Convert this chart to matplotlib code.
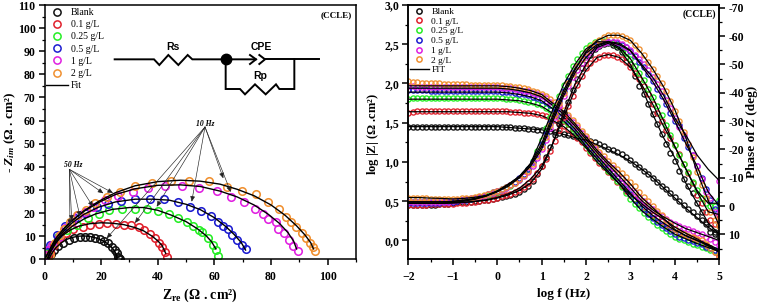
import matplotlib
matplotlib.use("Agg")
import matplotlib.pyplot as plt
from matplotlib.lines import Line2D

plt.rcParams['font.family'] = ['Liberation Serif', 'DejaVu Serif']
plt.rcParams['mathtext.fontset'] = 'custom'
plt.rcParams['mathtext.rm'] = 'Liberation Serif:bold'
plt.rcParams['mathtext.it'] = 'Liberation Serif:italic:bold'
plt.rcParams['mathtext.bf'] = 'Liberation Serif:bold'

names = ["Blank", "0.1 g/L", "0.25 g/L", "0.5 g/L", "1 g/L", "2 g/L"]
colors = ["#111111", "#e0202c", "#25ee25", "#1c1cd0", "#e020e0", "#f09030"]

# Nyquist points
blank_re = [26.7, 26.4, 25.8, 25.5, 24.9, 23.8, 22.6, 21.1, 19.6, 17.9, 16.1, 14.4, 12.4, 10.5, 8.8, 6.7, 4.9, 3.5, 2.2, 1.4]
blank_im = [0.0, 0.5, 0.9, 2.6, 4.0, 5.5, 6.9, 8.1, 8.8, 9.4, 9.8, 9.8, 9.8, 9.2, 8.4, 7.2, 5.8, 4.0, 2.3, 0.9]
c01_re = [43.2, 42.6, 41.6, 40.6, 39.0, 37.3, 35.2, 33.2, 30.6, 28.2, 25.2, 22.2, 19.3, 16.1, 13.5, 10.2, 7.6, 5.3, 3.2, 1.8, 0.8]
c01_im = [0.9, 3.3, 5.5, 6.9, 9.1, 11.0, 12.7, 13.8, 14.7, 15.0, 15.4, 15.6, 15.4, 14.7, 13.8, 13.0, 11.2, 9.1, 6.2, 3.3, 1.2]
c025_re = [61.4, 60.6, 59.4, 57.9, 55.5, 54.6, 52.4, 50.2, 47.1, 43.8, 40.2, 36.1, 31.8, 27.5, 22.9, 19.3, 15.2, 11.4, 7.9, 4.9, 2.6, 0.8]
c025_im = [1.6, 4.0, 6.2, 9.1, 12.0, 12.7, 14.4, 16.3, 18.0, 19.5, 20.9, 21.8, 21.8, 21.6, 21.3, 19.6, 17.7, 14.8, 12.7, 9.5, 6.2, 2.6]
c05_re = [71.0, 69.6, 67.9, 66.1, 64.7, 62.9, 61.1, 58.7, 55.3, 51.4, 47.3, 42.2, 37.3, 32.0, 26.9, 22.6, 18.5, 14.4, 10.8, 7.3, 4.4, 2.0, 0.8, 0.2]
c05_im = [4.3, 6.2, 8.4, 10.5, 13.0, 14.4, 16.3, 18.7, 20.9, 22.8, 24.6, 25.9, 25.9, 25.9, 25.2, 23.8, 22.5, 19.9, 17.7, 14.4, 10.5, 6.2, 3.3, 1.2]
c1_re = [89.6, 87.9, 86.5, 84.4, 82.6, 81.6, 79.0, 77.3, 74.2, 70.4, 65.9, 61.0, 54.6, 48.6, 42.6, 36.7, 31.2, 26.0, 21.4, 17.3, 14.4, 12.0, 9.6, 7.3, 5.0, 2.6, 1.4, 0.3]
c1_im = [3.5, 5.8, 8.4, 11.2, 13.0, 16.0, 17.4, 19.6, 21.6, 24.6, 27.1, 29.7, 30.7, 31.7, 31.7, 31.0, 29.3, 27.5, 25.6, 22.8, 20.6, 19.2, 16.3, 13.4, 9.8, 6.2, 4.0, 1.9]
c2_re = [95.5, 94.7, 93.8, 92.4, 90.8, 88.8, 86.9, 85.3, 82.7, 79.1, 74.8, 69.9, 64.4, 58.1, 51.2, 44.7, 38.1, 32.0, 26.7, 22.2, 17.9, 14.5, 11.5, 9.0, 7.0, 5.5, 3.7, 2.0]
c2_im = [3.6, 5.2, 6.9, 9.1, 11.2, 13.8, 16.3, 18.2, 21.6, 24.6, 28.1, 29.7, 31.4, 34.0, 34.0, 33.9, 33.1, 31.7, 29.3, 26.8, 24.2, 21.5, 19.0, 16.0, 13.0, 10.5, 7.0, 2.0]

# Nyquist fits
blank_fit_re = [1.5, 2.5, 4, 6, 8, 10, 12, 14, 16, 18, 20, 22, 23.5, 24.5, 25.2, 25.6]
blank_fit_im = [0, 2.5, 5, 7.2, 8.7, 9.5, 10, 10.1, 9.9, 9.3, 8.4, 7, 5.4, 4, 2.5, 0.8]
c01_fit_re = [1, 2, 4, 6, 9, 12, 16, 20, 24, 28, 32, 35, 38, 40, 41.5, 42.8]
c01_fit_im = [0, 3, 7, 10, 12.6, 14.3, 15.4, 15.8, 15.6, 15, 13.7, 12.3, 10, 8, 6, 2.6]
c025_fit_re = [1, 2, 4, 7, 10, 14, 18, 24, 30, 35, 40, 45, 50, 54, 57, 59, 60.5]
c025_fit_im = [0, 3, 7.5, 11.5, 14.5, 17.5, 19.6, 21.6, 22.4, 22.4, 21.2, 19, 16.3, 13.2, 10.3, 7.6, 4.5]
c05_fit_re = [1, 2, 4, 7, 10, 14, 19, 25, 32, 38, 44, 50, 55, 60, 64, 67, 69.5, 71]
c05_fit_im = [0, 3.2, 8, 12.5, 16, 19.5, 22.5, 24.8, 26, 26, 25.6, 23.8, 21.5, 18, 14.2, 10.7, 7.2, 4]
c1_fit_re = [0.5, 2, 4, 7, 10, 14, 19, 25, 32, 40, 48, 55, 62, 68, 74, 79, 83, 86, 88, 89]
c1_fit_im = [1, 4.5, 9, 13.5, 17, 20.8, 24.5, 28, 30.5, 32, 32.2, 31.5, 29.5, 27, 23.5, 19.5, 15.5, 11.5, 7.8, 4.5]
c2_fit_re = [0.5, 2, 4, 7, 10, 14, 19, 25, 32, 40, 48, 55, 62, 68, 74, 80, 85, 89, 92, 94, 95]
c2_fit_im = [1, 4.5, 9, 13.5, 17, 21, 25, 28.8, 31.8, 33.6, 34.2, 33.8, 32.5, 30.3, 27.5, 23.5, 19, 14.5, 10.5, 7.2, 4.5]

# Bode points
log_f = [-2.0, -1.9, -1.8, -1.7, -1.6, -1.5, -1.4, -1.3, -1.2, -1.1, -1.0, -0.9, -0.8, -0.7, -0.6, -0.5, -0.4, -0.3, -0.2, -0.1, 0.0,
         0.1, 0.2, 0.3, 0.4, 0.5, 0.6, 0.7, 0.8, 0.9, 1.0, 1.1, 1.2, 1.3, 1.4, 1.5, 1.6, 1.7, 1.8, 1.9, 2.0,
         2.1, 2.2, 2.3, 2.4, 2.5, 2.6, 2.7, 2.8, 2.9, 3.0, 3.1, 3.2, 3.3, 3.4, 3.5, 3.6, 3.7, 3.8, 3.9, 4.0,
         4.1, 4.2, 4.3, 4.4, 4.5, 4.6, 4.7, 4.8, 4.9, 5.0]
blank_z = [1.44, 1.45, 1.45, 1.45, 1.45, 1.45, 1.45, 1.45, 1.45, 1.45, 1.45, 1.45, 1.45, 1.45, 1.45, 1.45, 1.45, 1.44, 1.44, 1.44, 1.44,
           1.44, 1.44, 1.44, 1.43, 1.43, 1.43, 1.42, 1.42, 1.41, 1.41, 1.40, 1.39, 1.38, 1.37, 1.36, 1.35, 1.33, 1.32, 1.31, 1.29,
           1.27, 1.25, 1.23, 1.20, 1.17, 1.15, 1.13, 1.10, 1.06, 1.02, 0.97, 0.93, 0.89, 0.85, 0.80, 0.75, 0.70, 0.65, 0.60, 0.55,
           0.50, 0.45, 0.40, 0.36, 0.31, 0.26, 0.21, 0.16, 0.11, 0.06]
c01_z = [1.63, 1.64, 1.65, 1.65, 1.65, 1.65, 1.65, 1.65, 1.65, 1.65, 1.65, 1.65, 1.65, 1.65, 1.65, 1.65, 1.65, 1.65, 1.65, 1.65, 1.65,
         1.65, 1.65, 1.64, 1.64, 1.64, 1.63, 1.63, 1.62, 1.61, 1.60, 1.58, 1.56, 1.53, 1.50, 1.46, 1.42, 1.37, 1.31, 1.25, 1.18,
         1.12, 1.05, 0.99, 0.93, 0.87, 0.81, 0.75, 0.69, 0.63, 0.58, 0.53, 0.48, 0.43, 0.38, 0.33, 0.29, 0.25, 0.21, 0.17, 0.14,
         0.11, 0.08, 0.05, 0.03, 0.00, -0.03, -0.06, -0.10, -0.15, -0.20]
c025_z = [1.80, 1.81, 1.81, 1.81, 1.81, 1.81, 1.81, 1.81, 1.81, 1.81, 1.81, 1.81, 1.81, 1.81, 1.81, 1.81, 1.81, 1.81, 1.81, 1.81, 1.81,
          1.81, 1.80, 1.80, 1.80, 1.79, 1.78, 1.77, 1.76, 1.74, 1.72, 1.69, 1.66, 1.62, 1.58, 1.53, 1.48, 1.42, 1.36, 1.29, 1.22,
          1.14, 1.07, 1.01, 0.95, 0.88, 0.82, 0.76, 0.68, 0.60, 0.53, 0.47, 0.41, 0.35, 0.30, 0.25, 0.20, 0.16, 0.12, 0.08, 0.05,
          0.02, 0.00, -0.02, -0.04, -0.06, -0.08, -0.10, -0.12, -0.14, -0.15]
c05_z = [1.92, 1.92, 1.92, 1.92, 1.92, 1.91, 1.91, 1.91, 1.91, 1.91, 1.90, 1.90, 1.90, 1.90, 1.90, 1.90, 1.90, 1.90, 1.90, 1.90, 1.90,
         1.89, 1.89, 1.89, 1.88, 1.87, 1.86, 1.85, 1.83, 1.81, 1.79, 1.76, 1.72, 1.68, 1.63, 1.58, 1.52, 1.46, 1.39, 1.32, 1.25,
         1.18, 1.11, 1.05, 0.98, 0.92, 0.86, 0.80, 0.73, 0.66, 0.59, 0.52, 0.46, 0.40, 0.34, 0.29, 0.24, 0.20, 0.16, 0.12, 0.08,
         0.05, 0.03, 0.01, -0.01, -0.03, -0.05, -0.08, -0.10, -0.12, -0.14]
c1_z = [1.97, 1.97, 1.96, 1.96, 1.96, 1.96, 1.96, 1.95, 1.95, 1.95, 1.95, 1.95, 1.95, 1.95, 1.95, 1.95, 1.95, 1.95, 1.95, 1.95, 1.95,
        1.94, 1.94, 1.94, 1.93, 1.92, 1.91, 1.90, 1.88, 1.86, 1.84, 1.81, 1.77, 1.73, 1.68, 1.63, 1.57, 1.51, 1.44, 1.37, 1.30,
        1.23, 1.16, 1.10, 1.04, 0.98, 0.92, 0.86, 0.80, 0.74, 0.68, 0.62, 0.56, 0.50, 0.45, 0.40, 0.35, 0.31, 0.27, 0.24, 0.21,
        0.18, 0.16, 0.14, 0.12, 0.10, 0.08, 0.05, 0.02, -0.02, -0.06]
c2_z = [2.03, 2.02, 2.02, 2.01, 2.01, 2.00, 2.00, 2.00, 1.99, 1.99, 1.99, 1.99, 1.99, 1.99, 1.98, 1.98, 1.98, 1.98, 1.98, 1.98, 1.98,
        1.98, 1.97, 1.97, 1.96, 1.95, 1.94, 1.93, 1.91, 1.89, 1.87, 1.84, 1.80, 1.76, 1.71, 1.66, 1.60, 1.54, 1.47, 1.40, 1.33,
        1.26, 1.19, 1.13, 1.07, 1.01, 0.96, 0.91, 0.86, 0.81, 0.75, 0.69, 0.62, 0.56, 0.50, 0.44, 0.38, 0.32, 0.26, 0.20, 0.14,
        0.10, 0.08, 0.06, 0.04, 0.02, 0.00, -0.04, -0.09, -0.15, -0.22]

blank_ph = [-0.5, -0.5, -0.3, -0.3, -0.2, -0.4, -0.5, -0.6, -0.8, -0.9, -1.1, -1.3, -1.4, -1.5, -1.6, -1.7, -1.8, -2.0, -2.2, -2.5, -2.8,
            -3.1, -3.5, -3.9, -4.4, -5.0, -6.0, -7.2, -9.0, -11.3, -14.0, -17.5, -21.0, -25.0, -29.0, -33.0, -36.8, -41.0, -45.0, -48.8, -51.5,
            -53.5, -55.5, -56.5, -57.3, -57.5, -57.0, -56.0, -54.5, -52.5, -50.0, -46.0, -42.5, -39.5, -36.0, -32.5, -29.0, -25.5, -22.0, -18.6, -16.0,
            -12.5, -9.5, -7.0, -4.5, -1.0, 2.0, 5.5, 9.0, 10.0, 6.8]
c01_ph = [-0.5, -0.5, -0.5, -0.5, -0.5, -0.6, -0.6, -0.7, -0.7, -0.8, -0.9, -1.0, -1.1, -1.2, -1.4, -1.6, -1.8, -2.0, -2.3, -2.6, -3.0,
          -3.4, -3.9, -4.4, -5.0, -5.8, -6.8, -8.0, -9.5, -11.5, -14.0, -16.5, -19.5, -23.0, -27.0, -31.5, -35.5, -39.0, -42.7, -45.8, -48.7,
          -50.5, -51.8, -52.7, -53.2, -53.3, -53.2, -52.8, -52.0, -50.8, -49.0, -47.0, -45.0, -42.5, -39.5, -36.0, -33.0, -30.0, -27.0, -24.0, -21.5,
          -18.5, -15.0, -11.5, -8.0, -4.0, -1.0, 2.0, 5.0, 6.5, 3.0]
c025_ph = [-1.5, -1.5, -1.5, -1.4, -1.4, -1.4, -1.5, -1.5, -1.6, -1.7, -1.8, -2.0, -2.2, -2.4, -2.6, -2.9, -3.2, -3.6, -4.0, -4.5, -5.0,
           -5.6, -6.3, -7.1, -8.0, -9.2, -10.8, -13.0, -16.0, -19.5, -23.5, -27.5, -31.5, -35.5, -39.0, -42.7, -46.0, -49.5, -52.0, -54.0, -55.8,
           -57.0, -57.8, -58.2, -58.3, -58.0, -57.5, -56.8, -55.5, -54.0, -52.0, -49.5, -47.0, -44.5, -41.5, -38.5, -35.5, -32.0, -28.5, -25.0, -21.5,
           -18.0, -15.0, -12.0, -8.5, -5.5, -3.0, -1.0, 0.0, 0.0, -2.0]
c05_ph = [-1.0, -1.0, -1.0, -1.0, -1.0, -1.1, -1.1, -1.2, -1.3, -1.4, -1.6, -1.8, -2.0, -2.3, -2.6, -2.9, -3.3, -3.7, -4.2, -4.8, -5.4,
          -6.0, -6.8, -7.6, -8.6, -9.8, -11.2, -13.0, -15.5, -18.5, -22.0, -25.5, -29.5, -33.5, -37.0, -40.5, -44.0, -47.0, -49.5, -51.8, -53.8,
          -55.3, -56.5, -57.3, -57.8, -58.0, -58.0, -57.7, -57.0, -56.0, -54.8, -53.0, -51.0, -49.0, -46.5, -44.0, -41.5, -39.0, -36.0, -33.0, -30.0,
          -28.6, -24.0, -21.0, -18.0, -14.0, -10.0, -6.0, -2.0, 1.0, -1.0]
c1_ph = [-1.5, -1.5, -1.4, -1.4, -1.4, -1.4, -1.4, -1.5, -1.5, -1.6, -1.8, -2.0, -2.2, -2.4, -2.7, -3.0, -3.3, -3.7, -4.1, -4.6, -5.2,
         -5.8, -6.5, -7.3, -8.2, -9.3, -10.6, -12.2, -14.2, -17.0, -20.0, -23.5, -27.5, -31.5, -35.5, -39.0, -42.5, -45.5, -48.0, -50.5, -52.5,
         -54.3, -55.8, -56.8, -57.6, -58.0, -58.0, -57.9, -57.2, -56.3, -55.0, -53.5, -52.0, -50.0, -48.0, -45.5, -43.0, -40.5, -37.5, -34.5, -31.0,
         -28.0, -25.0, -22.0, -18.0, -14.0, -9.5, -5.0, -3.0, 2.0, -9.0]
c2_ph = [-3.0, -3.0, -2.8, -2.7, -2.7, -2.6, -2.6, -2.5, -2.4, -2.4, -2.5, -2.6, -2.7, -2.9, -3.0, -3.3, -3.6, -3.9, -4.3, -4.8, -5.3,
         -5.9, -6.6, -7.4, -8.3, -9.4, -10.8, -12.5, -14.8, -17.8, -21.0, -24.5, -28.5, -32.5, -36.5, -40.0, -43.5, -46.5, -49.5, -52.0, -54.5,
         -56.0, -57.5, -58.8, -59.8, -60.3, -60.5, -60.5, -60.2, -59.5, -58.5, -57.0, -55.5, -53.5, -51.0, -48.5, -46.0, -43.5, -40.5, -37.0, -33.5,
         -30.0, -26.0, -22.0, -17.5, -12.0, -7.5, -3.0, 2.0, 5.0, 7.0]

# Bode fits
log_f_fit = [-2, -1.75, -1.5, -1.25, -1, -0.75, -0.5, -0.25, 0, 0.25, 0.5, 0.75, 1, 1.25, 1.5, 1.75, 2, 2.25, 2.5, 2.75, 3, 3.25, 3.5, 3.75, 4, 4.25, 4.5, 4.75, 5]
blank_z_fit = [1.45, 1.45, 1.45, 1.45, 1.45, 1.45, 1.45, 1.45, 1.45, 1.44, 1.43, 1.42, 1.41, 1.385, 1.35, 1.31, 1.28, 1.22, 1.16, 1.09, 1.01, 0.91, 0.80, 0.67, 0.54, 0.41, 0.29, 0.17, 0.07]
c01_z_fit = [1.64, 1.64, 1.64, 1.64, 1.64, 1.64, 1.64, 1.64, 1.64, 1.64, 1.63, 1.62, 1.59, 1.53, 1.45, 1.33, 1.18, 1.00, 0.86, 0.72, 0.58, 0.47, 0.36, 0.27, 0.17, 0.09, 0.02, -0.06, -0.14]
c025_z_fit = [1.80, 1.80, 1.80, 1.80, 1.80, 1.80, 1.80, 1.80, 1.80, 1.79, 1.78, 1.75, 1.71, 1.62, 1.52, 1.38, 1.20, 1.04, 0.88, 0.72, 0.54, 0.38, 0.27, 0.17, 0.08, 0.02, -0.04, -0.09, -0.14]
c05_z_fit = [1.89, 1.89, 1.89, 1.89, 1.89, 1.89, 1.89, 1.89, 1.89, 1.88, 1.86, 1.83, 1.78, 1.68, 1.57, 1.42, 1.25, 1.08, 0.92, 0.76, 0.60, 0.44, 0.32, 0.22, 0.13, 0.06, 0.00, -0.05, -0.12]
c1_z_fit = [1.94, 1.94, 1.94, 1.94, 1.94, 1.94, 1.94, 1.94, 1.94, 1.93, 1.91, 1.88, 1.83, 1.72, 1.61, 1.46, 1.29, 1.12, 0.97, 0.82, 0.67, 0.51, 0.39, 0.30, 0.22, 0.15, 0.10, 0.05, 0.00]
c2_z_fit = [1.97, 1.97, 1.97, 1.97, 1.97, 1.97, 1.97, 1.97, 1.97, 1.96, 1.94, 1.91, 1.86, 1.75, 1.64, 1.49, 1.32, 1.15, 1.00, 0.87, 0.72, 0.55, 0.42, 0.28, 0.14, 0.06, 0.00, -0.07, -0.15]
blank_ph_fit = [-1, -1, -1, -1, -1.1, -1.3, -1.6, -2, -2.8, -3.9, -5.5, -8, -13, -22, -33, -43, -50, -56, -57.5, -55.5, -50, -42, -32.5, -24, -17, -8, -1, 6, 10]
c01_ph_fit = [-1, -1, -1, -1, -1.1, -1.3, -1.7, -2.2, -3, -4.3, -6.3, -9.5, -14, -22, -31.5, -41, -48, -52.5, -53.5, -52.5, -49, -43, -36, -28, -21, -13, -5, 2, 3]
c025_ph_fit = [-1.5, -1.5, -1.5, -1.5, -1.7, -2.1, -2.6, -3.6, -5, -7, -10, -15, -24, -34, -43, -50, -55.5, -58, -58, -56, -52, -45.5, -38.5, -30, -21, -13, -5.5, -1, -1]
c05_ph_fit = [-1, -1, -1, -1, -1.3, -1.7, -2.4, -3.5, -5.2, -7.5, -10.5, -15, -22, -32, -41, -48.5, -54, -57, -58, -57, -54.8, -49.5, -44, -37.5, -30, -22, -14, -5, 0]
c1_ph_fit = [-1.5, -1.5, -1.5, -1.5, -1.6, -2, -2.7, -3.6, -5.2, -7.7, -10, -14, -20, -30, -39, -47, -52.5, -56.5, -58, -57.5, -55, -50, -45.5, -39, -31, -25, -18, -13, -9]
c2_ph_fit = [-3, -3, -2.8, -2.7, -2.5, -2.7, -3.1, -3.8, -5.3, -7.7, -10.5, -14.5, -21, -31, -40, -48, -54.5, -58.5, -60.3, -60.3, -58.5, -54, -48.5, -42, -34, -24, -12, -2, 7]

W, H = 761, 305


def px_axes(x0, x1, y0, y1):
    return [x0 / W, 1 - y1 / H, (x1 - x0) / W, (y1 - y0) / H]


def style(ax):
    for s in ax.spines.values():
        s.set_linewidth(1.1)
    ax.tick_params(which='major', length=4, width=1.1, labelsize=8.5, pad=2.5)
    ax.tick_params(axis='x', which='major', pad=4.5)
    ax.tick_params(which='minor', length=2.2, width=0.9)
    for t in ax.get_xticklabels() + ax.get_yticklabels():
        t.set_fontweight('bold')


def legend_handles(last, ms):
    hs = [Line2D([], [], ls='none', marker='o', mfc='none', mec=c, ms=ms, mew=1.1) for c in colors]
    hs.append(Line2D([], [], color='k', lw=1))
    return hs, names + [last]


fig = plt.figure(figsize=(W / 100, H / 100), dpi=100)

# left panel: Nyquist
ax1 = fig.add_axes(px_axes(44.5, 356, 5, 259.3))
nyq = [(blank_re, blank_im), (c01_re, c01_im), (c025_re, c025_im), (c05_re, c05_im), (c1_re, c1_im), (c2_re, c2_im)]
nyq_fit = [(blank_fit_re, blank_fit_im), (c01_fit_re, c01_fit_im), (c025_fit_re, c025_fit_im),
           (c05_fit_re, c05_fit_im), (c1_fit_re, c1_fit_im), (c2_fit_re, c2_fit_im)]
for (x, y), c in zip(nyq, colors):
    ax1.plot(x, y, ls='none', marker='o', mfc='none', mec=c, ms=5.4, mew=1.15)
for x, y in nyq_fit:
    ax1.plot(x, y, color='k', lw=1.0)
ax1.set_xlim(0, 110)
ax1.set_ylim(0, 110)
ax1.set_xticks(range(0, 101, 20))
ax1.set_xticks(range(0, 111, 10), minor=True)
ax1.set_yticks(range(0, 111, 10))
ax1.set_yticks(range(0, 111, 5), minor=True)
style(ax1)
hs, ls = legend_handles("Fit", 5.2)
ax1.legend(hs, ls, loc='upper left', bbox_to_anchor=(-0.005, 1.0), frameon=False, fontsize=7,
           handlelength=2.3, handletextpad=0.3, labelspacing=0.33, borderaxespad=0.1, borderpad=0.2)

# right panel: Bode
ax2 = fig.add_axes(px_axes(408.3, 719.3, 5, 259.3))
ax3 = ax2.twinx()
zs = [blank_z, c01_z, c025_z, c05_z, c1_z, c2_z]
phs = [blank_ph, c01_ph, c025_ph, c05_ph, c1_ph, c2_ph]
zs_fit = [blank_z_fit, c01_z_fit, c025_z_fit, c05_z_fit, c1_z_fit, c2_z_fit]
phs_fit = [blank_ph_fit, c01_ph_fit, c025_ph_fit, c05_ph_fit, c1_ph_fit, c2_ph_fit]
for z, ph, c in zip(zs, phs, colors):
    ax2.plot(log_f, z, ls='none', marker='o', mfc='none', mec=c, ms=3.7, mew=0.95)
    ax3.plot(log_f, ph, ls='none', marker='o', mfc='none', mec=c, ms=3.7, mew=0.95)
for z, ph in zip(zs_fit, phs_fit):
    ax2.plot(log_f_fit, z, color='k', lw=0.9)
    ax3.plot(log_f_fit, ph, color='k', lw=0.9)
ax2.set_xlim(-2, 5)
ax2.set_ylim(-0.24, 3.0)
ax3.set_ylim(18.8, -71)
ax2.set_xticks(range(-2, 6))
ax2.set_xticks([v / 2 for v in range(-4, 11)], minor=True)
ax2.set_yticks([0, 0.5, 1, 1.5, 2, 2.5, 3])
ax2.set_yticklabels(['0,0', '0,5', '1,0', '1,5', '2,0', '2,5', '3,0'])
ax2.set_yticks([v / 4 for v in range(0, 13)], minor=True)
ax3.set_yticks(range(-70, 11, 10))
ax3.set_yticklabels(['-70', '-60', '-50', '-40', '-30', '-20', '-10', '0', '10'])
ax3.set_yticks(range(-70, 16, 5), minor=True)
style(ax2)
style(ax3)
hs, ls = legend_handles("FIT", 3.8)
ax3.legend(hs, ls, loc='upper left', bbox_to_anchor=(-0.002, 1.0), frameon=False, fontsize=6.8,
           handlelength=2.0, handletextpad=0.25, labelspacing=0.12, borderaxespad=0.15, borderpad=0.1)

# overlay in picture pixels: circuit, notes, axis titles
ov = fig.add_axes([0, 0, 1, 1], facecolor='none')
ov.set_xlim(0, W)
ov.set_ylim(H, 0)
ov.axis('off')


def wire(pts, lw=1.4):
    ov.plot([p[0] / 3 for p in pts], [p[1] / 3 for p in pts], color='k', lw=lw, solid_joinstyle='miter')


wire([(344, 178), (462, 178), (478, 195), (505, 165), (535, 195), (563, 165), (577, 178), (767, 178)])
wire([(750, 165), (768, 178), (750, 192)])
wire([(778, 165), (795, 178), (778, 192)])
wire([(795, 178), (957, 178)])
wire([(677, 178), (677, 267), (720, 267), (735, 283), (765, 253), (797, 283), (828, 253), (838, 267), (883, 267), (883, 178)])
ov.plot([677 / 3], [178 / 3], marker='o', color='k', ms=7.5)
for s, x, y in [("Rs", 172.5, 46.5), ("CPE", 261, 46.5), ("Rp", 260, 76)]:
    ov.text(x, y, s, family='Liberation Sans', fontweight='bold', fontsize=7.5, ha='center', va='center')
ov.text(352, 15, "(CCLE)", fontweight='bold', fontsize=6.5, ha='right', va='center')
ov.text(715.7, 14.5, "(CCLE)", fontweight='bold', fontsize=7, ha='right', va='center')

ov.text(73, 165, "50 Hz", fontweight='bold', style='italic', fontsize=5.5, ha='center', va='center')
ov.text(205, 124, "10 Hz", fontweight='bold', style='italic', fontsize=5.5, ha='center', va='center')
arrow_style = dict(arrowstyle='-|>,head_width=0.14,head_length=0.32', lw=0.45, color='#222222', shrinkA=0, shrinkB=0)
for tip in [(113, 193), (103.3, 193.3), (93, 206.7), (80, 216.7), (71.7, 220.7), (70, 225)]:
    ov.annotate("", xy=tip, xytext=(69.3, 169.3), arrowprops=arrow_style)
for tip in [(223.3, 178.3), (230.7, 192), (191.7, 201.7), (156.7, 206.7), (135, 223), (106.7, 238.3)]:
    ov.annotate("", xy=tip, xytext=(205, 127), arrowprops=arrow_style)

ov.text(10, 133, r"- $\mathit{Z}_{\mathit{im}}$ ($\mathrm{\Omega}$ . cm²)", fontweight='bold', fontsize=9.5, rotation=90, ha='center', va='center')
ov.text(200, 295, r"Z$_{\mathrm{re}}$ ($\mathrm{\Omega}$ . cm²)", fontweight='bold', fontsize=10, ha='center', va='center')
ov.text(373, 134, r"log |Z| ($\mathrm{\Omega}$ .cm²)", fontweight='bold', fontsize=9, rotation=90, ha='center', va='center')
ov.text(564, 294, "log f (Hz)", fontweight='bold', fontsize=9.5, ha='center', va='center')
ov.text(752, 132, "Phase of Z (deg)", fontweight='bold', fontsize=9.5, rotation=90, ha='center', va='center')

fig.savefig("out.png", dpi=100)
